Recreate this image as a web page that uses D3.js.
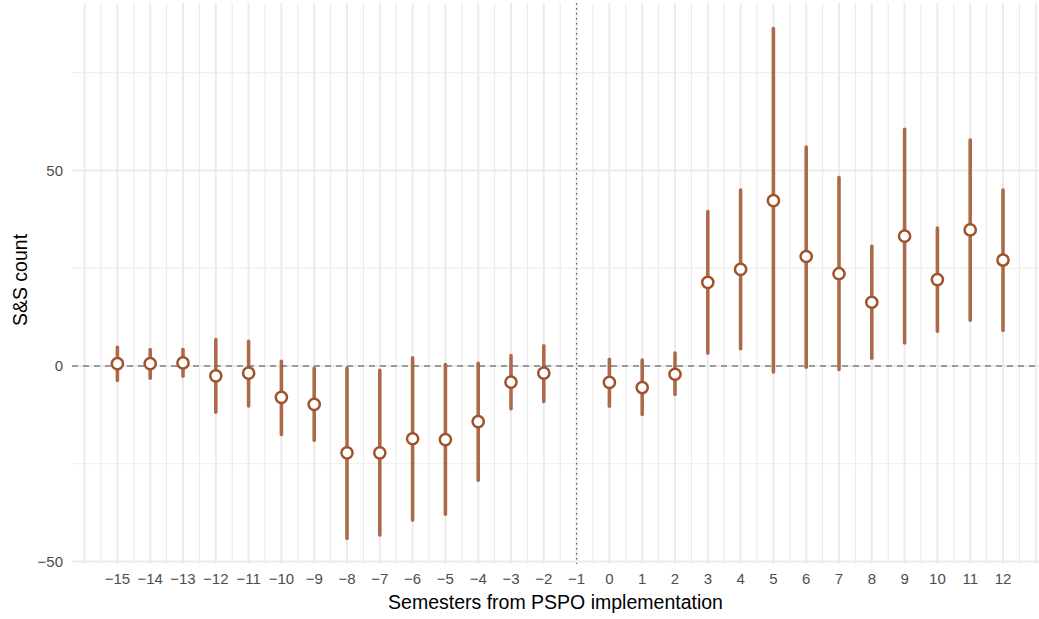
<!DOCTYPE html>
<html>
<head>
<meta charset="utf-8">
<script src="https://cdn.jsdelivr.net/npm/d3@7"></script>
<style>
	body { margin: 0; background: #fff; }
	text { font-family: "Liberation Sans", Arial, sans-serif; }
</style>
</head>
<body>
<div class="chart"></div>
<script>
const semesters = [-15, -14, -13, -12, -11, -10, -9, -8, -7, -6, -5, -4, -3, -2, 0, 1, 2, 3, 4, 5, 6, 7, 8, 9, 10, 11, 12];
const estimate = [0.6, 0.6, 0.8, -2.5, -1.8, -8.0, -9.8, -22.2, -22.2, -18.6, -18.8, -14.2, -4.1, -1.8, -4.2, -5.5, -2.1, 21.4, 24.7, 42.3, 28.0, 23.6, 16.3, 33.2, 22.1, 34.8, 27.1];
const upper = [4.8, 4.2, 4.2, 6.8, 6.3, 1.2, -0.6, -0.5, -1.1, 2.1, 0.4, 0.7, 2.7, 5.2, 1.7, 1.5, 3.3, 39.5, 45.0, 86.3, 56.0, 48.2, 30.6, 60.5, 35.3, 57.8, 45.0];
const lower = [-3.7, -3.1, -2.6, -11.8, -10.2, -17.5, -19.0, -44.1, -43.2, -39.4, -37.9, -29.2, -10.9, -9.1, -10.3, -12.4, -7.3, 3.3, 4.4, -1.5, -0.3, -0.9, 2.0, 5.9, 8.9, 11.7, 9.1];
const xTicks = d3.range(-15, 13);
const yTicks = [-50, 0, 50];
const yMinor = [-25, 25, 75];

const W = 1039, H = 619;
const panel = { left: 72, right: 1039, top: 3, bottom: 564 };
const col = "#a0522d";

const data = semesters.map((s, i) => ({ s, est: estimate[i], lo: lower[i], hi: upper[i] }));

const x = d3.scaleLinear().domain([-15, 12]).range([117.4, 1003]);
const lo = d3.min(lower), hi = d3.max(upper), pad = (hi - lo) * 0.05;
const y = d3.scaleLinear().domain([lo - pad, hi + pad]).range([panel.bottom, panel.top]);

const svg = d3.select(".chart").append("svg").attr("width", W).attr("height", H);

svg.append("defs").append("clipPath").attr("id", "clip")
	.append("rect").attr("x", panel.left).attr("y", panel.top)
	.attr("width", panel.right - panel.left).attr("height", panel.bottom - panel.top);

const grid = svg.append("g").attr("clip-path", "url(#clip)");

// vertical grid, major at integers and minor in between
const xMinor = d3.range(-16.5, 13.6, 1);
grid.selectAll(".vminor").data(xMinor).enter().append("line")
	.attr("x1", (d) => x(d)).attr("x2", (d) => x(d))
	.attr("y1", panel.top).attr("y2", panel.bottom)
	.attr("stroke", "#ebebeb").attr("stroke-width", 1.1);
grid.selectAll(".vmajor").data(d3.range(-17, 14)).enter().append("line")
	.attr("x1", (d) => x(d)).attr("x2", (d) => x(d))
	.attr("y1", panel.top).attr("y2", panel.bottom)
	.attr("stroke", "#ebebeb").attr("stroke-width", 2);

grid.selectAll(".hminor").data(yMinor).enter().append("line")
	.attr("x1", panel.left).attr("x2", panel.right)
	.attr("y1", (d) => y(d)).attr("y2", (d) => y(d))
	.attr("stroke", "#ebebeb").attr("stroke-width", 1.1);
grid.selectAll(".hmajor").data(yTicks).enter().append("line")
	.attr("x1", panel.left).attr("x2", panel.right)
	.attr("y1", (d) => y(d)).attr("y2", (d) => y(d))
	.attr("stroke", "#ebebeb").attr("stroke-width", 2);

// reference lines
svg.append("line")
	.attr("x1", panel.left).attr("x2", panel.right)
	.attr("y1", y(0)).attr("y2", y(0))
	.attr("stroke", "#808080").attr("stroke-width", 1.5)
	.attr("stroke-dasharray", "6,5");
svg.append("line")
	.attr("x1", x(-1)).attr("x2", x(-1))
	.attr("y1", panel.top).attr("y2", panel.bottom)
	.attr("stroke", "#555").attr("stroke-width", 1.1)
	.attr("stroke-dasharray", "1.5,3.5");

// error bars and points
svg.selectAll(".bar").data(data).enter().append("line")
	.attr("x1", (d) => x(d.s)).attr("x2", (d) => x(d.s))
	.attr("y1", (d) => y(d.lo)).attr("y2", (d) => y(d.hi))
	.attr("stroke", col).attr("stroke-opacity", 0.85)
	.attr("stroke-width", 3.6).attr("stroke-linecap", "round");

svg.selectAll(".pt").data(data).enter().append("circle")
	.attr("cx", (d) => x(d.s)).attr("cy", (d) => y(d.est))
	.attr("r", 5.6).attr("fill", "#fff")
	.attr("stroke", col).attr("stroke-width", 2.5);

// axes labels
svg.selectAll(".xt").data(xTicks).enter().append("text")
	.attr("x", (d) => x(d)).attr("y", 584)
	.attr("text-anchor", "middle").attr("fill", "#4d4d4d")
	.style("font-size", "15px")
	.text((d) => String(d).replace("-", "\u2212"));

svg.selectAll(".yt").data(yTicks).enter().append("text")
	.attr("x", 63).attr("y", (d) => y(d) + 5.3)
	.attr("text-anchor", "end").attr("fill", "#4d4d4d")
	.style("font-size", "15px")
	.text((d) => String(d).replace("-", "\u2212"));

svg.append("text")
	.attr("x", (panel.left + panel.right) / 2).attr("y", 609)
	.attr("text-anchor", "middle").attr("fill", "#000")
	.style("font-size", "19.5px")
	.text("Semesters from PSPO implementation");

svg.append("text")
	.attr("transform", `translate(27,280) rotate(-90)`)
	.attr("text-anchor", "middle").attr("fill", "#000")
	.style("font-size", "19.5px")
	.text("S&S count");
</script>
</body>
</html>
